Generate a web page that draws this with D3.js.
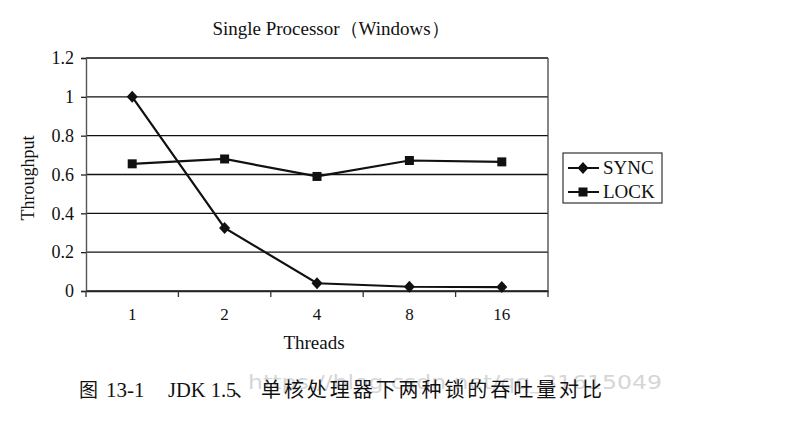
<!DOCTYPE html>
<html><head><meta charset="utf-8">
<script src="https://cdn.jsdelivr.net/npm/d3@7/dist/d3.min.js"></script>
<style>body{margin:0;background:#fff}svg{display:block}</style>
</head><body>
<svg id="c" width="792" height="428"></svg>
<script>
const categories = ["1","2","4","8","16"];
const syncValues = [1.0, 0.325, 0.04, 0.022, 0.02];
const lockValues = [0.655, 0.68, 0.59, 0.672, 0.665];
const yTicks = [0, 0.2, 0.4, 0.6, 0.8, 1, 1.2];
const yTickLabels = ["0","0.2","0.4","0.6","0.8","1","1.2"];
const seriesNames = ["SYNC","LOCK"];
const titleText = "Single Processor（Windows）";
const xTitle = "Threads";
const yTitle = "Throughput";
const captionFig = "图";
const captionNum = "13-1";
const captionJdk = "JDK 1.5";
const captionSep = "、";
const captionZh = "单核处理器下两种锁的吞吐量对比";
const watermark = "https://blog.csdn.net/qq_31615049";

const svg = d3.select("#c");
const serif = "'Liberation Serif','DejaVu Serif',serif";
const cjk = "'Noto Sans CJK SC',sans-serif";
const L = 86, R = 548, T = 58, B = 291;
const x = d3.scaleBand().domain(categories).range([L, R]);
const y = d3.scaleLinear().domain([0, 1.2]).range([B, T]);

// watermark (behind)
svg.append("text").attr("x", 248).attr("y", 389)
  .attr("font-family", "'DejaVu Sans',sans-serif").attr("font-size", 20).attr("fill", "#d6d6d6")
  .attr("textLength", 414).attr("lengthAdjust", "spacingAndGlyphs").text(watermark);

// gridlines
svg.append("g").selectAll("line").data(yTicks).join("line")
  .attr("x1", L).attr("x2", R).attr("y1", d => y(d)).attr("y2", d => y(d))
  .attr("stroke", "#111").attr("stroke-width", 1.3);
// right border
svg.append("line").attr("x1", R).attr("x2", R).attr("y1", T).attr("y2", B)
  .attr("stroke", "#444").attr("stroke-width", 1.3);

// y axis
const ya = svg.append("g").attr("transform", `translate(${L},0)`)
  .call(d3.axisLeft(y).tickValues(yTicks).tickFormat((d,i) => yTickLabels[i]).tickSize(5).tickPadding(7));
ya.select(".domain").attr("stroke", "#555").attr("stroke-width", 1.4);
ya.selectAll(".tick line").attr("stroke", "#222").attr("stroke-width", 1.3);
ya.selectAll("text").attr("font-family", serif).attr("font-size", 18).attr("fill", "#111");

// x axis
const xa = svg.append("g").attr("transform", `translate(0,${B})`)
  .call(d3.axisBottom(x).tickSize(0).tickPadding(17));
xa.select(".domain").attr("stroke", "#222").attr("stroke-width", 1.4);
xa.selectAll("text").attr("font-family", serif).attr("font-size", 17).attr("fill", "#111");
// band boundary ticks
const bounds = categories.map(c => x(c)).concat([R]);
svg.append("g").selectAll("line").data(bounds).join("line")
  .attr("x1", d => d).attr("x2", d => d)
  .attr("y1", B).attr("y2", B + 6).attr("stroke", "#333").attr("stroke-width", 1.3);

const cx = d => x(d) + x.bandwidth() / 2;
const line = d3.line().x((d,i) => cx(categories[i])).y(d => y(d));
const series = [syncValues, lockValues];
const diamond = "M0,-6L5.5,0L0,6L-5.5,0Z";
const square = "M-4.5,-4.5H4.5V4.5H-4.5Z";
const shapes = [diamond, square];

series.forEach((vals, si) => {
  svg.append("path").datum(vals).attr("d", line)
    .attr("fill", "none").attr("stroke", "#111").attr("stroke-width", 2.2);
  svg.append("g").selectAll("path").data(vals).join("path")
    .attr("transform", (d,i) => `translate(${cx(categories[i])},${y(d)})`)
    .attr("d", shapes[si]).attr("fill", "#111");
});

// legend
const lg = svg.append("g").attr("transform", "translate(563,153)");
lg.append("rect").attr("width", 99).attr("height", 50).attr("fill", "#fff")
  .attr("stroke", "#333").attr("stroke-width", 1.2);
seriesNames.forEach((n, i) => {
  const yy = 15 + i * 24;
  lg.append("line").attr("x1", 5).attr("x2", 36).attr("y1", yy).attr("y2", yy)
    .attr("stroke", "#111").attr("stroke-width", 2);
  lg.append("path").attr("transform", `translate(20,${yy})`)
    .attr("d", shapes[i]).attr("fill", "#111");
  lg.append("text").attr("x", 40).attr("y", yy + 6).text(n)
    .attr("font-family", serif).attr("font-size", 19).attr("fill", "#111");
});

// titles
svg.append("text").attr("x", 331).attr("y", 35).attr("text-anchor", "middle")
  .attr("font-family", serif).attr("font-size", 19).attr("fill", "#111").text(titleText);
svg.append("text").attr("x", 314).attr("y", 349).attr("text-anchor", "middle")
  .attr("font-family", serif).attr("font-size", 19).attr("fill", "#111").text(xTitle);
svg.append("text").attr("transform", "translate(34,178) rotate(-90)").attr("text-anchor", "middle")
  .attr("font-family", serif).attr("font-size", 18).attr("fill", "#111").text(yTitle);

// caption
const capY = 397;
svg.append("text").attr("x", 79).attr("y", capY).attr("font-family", cjk)
  .attr("font-size", 19).attr("fill", "#111").text(captionFig);
svg.append("text").attr("x", 106).attr("y", capY).attr("font-family", serif)
  .attr("font-size", 21).attr("fill", "#111").text(captionNum);
svg.append("text").attr("x", 168).attr("y", capY).attr("font-family", serif)
  .attr("font-size", 20.5).attr("fill", "#111").text(captionJdk);
svg.append("text").attr("x", 234).attr("y", capY).attr("font-family", cjk)
  .attr("font-size", 20).attr("fill", "#111").text(captionSep);
svg.append("text").attr("x", 261).attr("y", capY).attr("font-family", cjk)
  .attr("font-size", 20).attr("fill", "#111")
  .attr("textLength", 341).attr("lengthAdjust", "spacing").text(captionZh);
</script>
</body></html>
